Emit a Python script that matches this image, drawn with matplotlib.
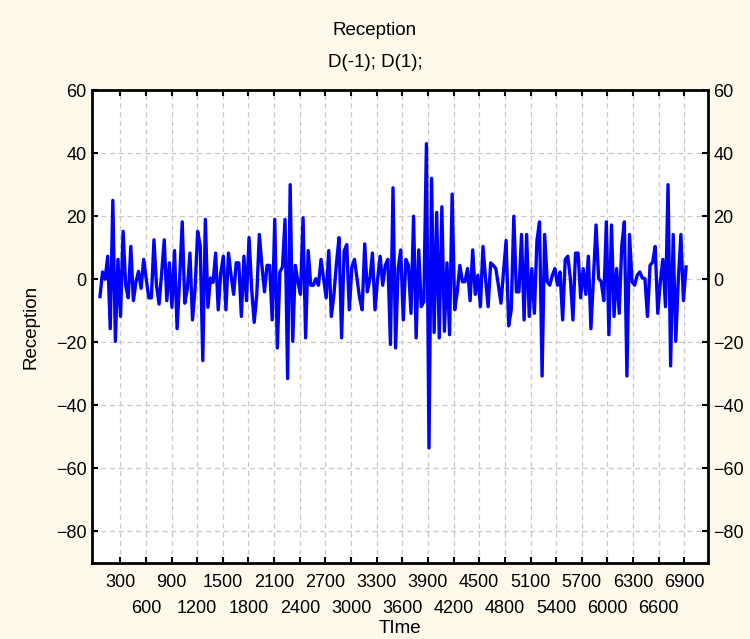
import numpy as np
import matplotlib.pyplot as plt

# Reception series, D(-1); D(1)
reception = [
    -5.5, 2.3, 0.0, 7.3, -15.7, 25.0, -19.7, 6.3, -11.8, 15.2,
    -1.9, -5.9, 10.4, -6.8, -0.8, 2.5, -2.9, 6.3, 0.0, -5.9,
    -5.9, 12.5, -2.0, -7.9, 2.0, 12.5, -6.8, 5.2, -8.9, 9.1,
    -15.7, 0.0, 18.2, -7.6, -3.0, 8.3, -12.9, -3.0, 15.2, 10.7,
    -25.8, 19.0, -8.9, 0.4, -1.0, 8.3, -9.7, 2.0, 7.3, -9.7,
    8.3, 1.3, -4.8, 5.2, 5.2, -11.8, 7.3, -6.8, 13.2, -2.9,
    -13.7, -5.0, 14.2, 4.4, -4.0, 4.4, 4.4, -12.9, 19.0, -21.8,
    2.3, 3.9, 19.0, -31.5, 30.0, -19.7, 4.4, -0.8, -4.8, 19.5,
    -18.6, 9.1, -1.9, -1.9, 0.2, -1.9, 6.3, 0.2, -5.9, 9.1,
    -11.8, -5.0, 5.0, 13.2, -18.6, 9.0, 11.0, -9.7, 3.9, 6.3,
    0.2, -5.9, -9.7, 11.2, -4.0, 0.0, 8.3, -9.7, 0.0, 7.3,
    -1.9, 4.4, 6.3, -20.7, 29.0, -21.8, 3.4, 9.3, -12.9, 6.3,
    4.4, -10.8, 20.0, -18.6, 9.3, -8.7, -7.1, 43.0, -53.5, 32.0,
    -16.9, 21.2, -18.6, 23.0, -16.5, 5.2, -17.6, 27.0, -9.7, -4.0,
    4.4, -0.8, -0.8, 3.4, -6.8, 9.3, -4.8, 1.3, -8.7, 10.4,
    0.2, -8.7, 5.2, 4.4, 3.4, -1.9, -7.6, 2.3, 12.3, -14.8,
    -9.7, 20.0, -4.0, -4.0, 14.2, -12.9, 14.2, -11.8, 3.4, -10.8,
    12.3, 18.2, -30.7, 14.2, -0.8, -1.9, 1.3, 3.4, -1.9, 2.3,
    -12.9, 6.3, 7.3, 0.2, -12.9, 8.3, 8.3, -5.9, 3.4, -4.8,
    7.3, -15.7, 0.7, 17.2, 0.2, -0.8, -6.8, 18.2, -17.6, 17.2,
    -11.8, 3.4, -10.8, 10.7, 18.2, -30.7, 14.2, -0.8, -1.9, 1.3,
    2.3, 0.4, 0.2, -11.8, 4.4, 5.4, 10.4, -10.8, -0.8, 6.3,
    -8.7, 30.0, -27.5, 14.2, -19.7, 0.0, 14.2, -6.8, 3.9,
]
t_start, t_end = 62, 6920
time = np.linspace(t_start, t_end, len(reception))

# upper row of x labels (major) and lower row (minor)
x_row1 = [300, 900, 1500, 2100, 2700, 3300, 3900, 4500, 5100, 5700, 6300, 6900]
x_row2 = [600, 1200, 1800, 2400, 3000, 3600, 4200, 4800, 5400, 6000, 6600]
y_ticks = [-80, -60, -40, -20, 0, 20, 40, 60]

plt.rcParams['font.family'] = ['Liberation Sans', 'DejaVu Sans']

fig = plt.figure(figsize=(7.5, 6.39), dpi=100, facecolor='#fff9ec')
ax = fig.add_axes([0.1227, 0.119, 0.8213, 0.740])
ax.set_facecolor('white')

ax.plot(time, reception, color='#0000ff', linewidth=2.4)

ax.set_xlim(-31, 7177)
ax.set_ylim(-90, 60)
ax.set_xticks(x_row1)
ax.set_xticks(x_row2, minor=True)
ax.set_xticklabels([str(v) for v in x_row1], fontsize=13)
ax.set_xticklabels([str(v) for v in x_row2], minor=True, fontsize=13)
ax.set_yticks(y_ticks)
ax.grid(True, which='both', axis='x', color='#c8c8c8', linestyle=(0, (4, 3)), linewidth=0.9)
ax.grid(True, axis='y', color='#c8c8c8', linestyle=(0, (4, 3)), linewidth=0.9)

ax.tick_params(axis='both', which='both', direction='in', length=4, width=1.5,
               top=True, right=True, labelsize=13)
ax.tick_params(axis='y', labelright=True, pad=4)
ax.tick_params(axis='x', which='major', pad=8)
ax.tick_params(axis='x', which='minor', pad=27)
for s in ax.spines.values():
    s.set_linewidth(2)
    s.set_color('black')

fig.text(0.5, 0.952, 'Reception', ha='center', va='center', fontsize=13.5)
fig.text(0.5, 0.902, 'D(-1); D(1);', ha='center', va='center', fontsize=13.5)
ax.set_xlabel('TIme', fontsize=13.5, labelpad=2)
ax.set_ylabel('Reception', fontsize=13.5, labelpad=12)

fig.savefig('out.png', dpi=100, facecolor=fig.get_facecolor())
